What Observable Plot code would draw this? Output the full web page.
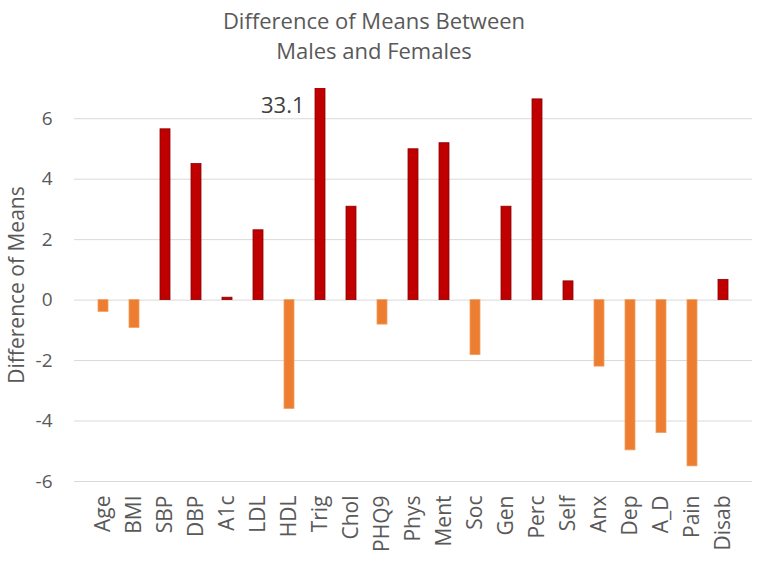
<!DOCTYPE html>
<html>
<head>
<meta charset="utf-8">
<script src="https://cdn.jsdelivr.net/npm/d3@7"></script>
<script src="https://cdn.jsdelivr.net/npm/@observablehq/plot@0.6"></script>
<style>
  html, body { margin: 0; padding: 0; background: #fff; }
  #wrap { width: 765px; height: 563px; overflow: hidden; font-family: "Open Sans", Lato, sans-serif; }
  #title { height: 70px; box-sizing: border-box; padding-top: 5px; text-align: center; color: #595959; font-size: 22px; line-height: 30px; padding-right: 17px; }
</style>
</head>
<body>
<div id="wrap">
  <div id="title">Difference of Means Between<br>Males and Females</div>
  <div id="chart"></div>
</div>
<script>
const categories = ["Age","BMI","SBP","DBP","A1c","LDL","HDL","Trig","Chol","PHQ9","Phys","Ment","Soc","Gen","Perc","Self","Anx","Dep","A_D","Pain","Disab"];
const values = [-0.39,-0.92,5.65,4.5,0.08,2.31,-3.6,33.1,3.09,-0.81,4.99,5.19,-1.82,3.09,6.64,0.62,-2.2,-4.97,-4.4,-5.5,0.67];
const yTicks = [-6,-4,-2,0,2,4,6];
const labelled = ["Trig"];

const data = categories.map((c, i) => ({cat: c, value: values[i]}));
const offScale = data.filter(d => labelled.includes(d.cat));

const chart = Plot.plot({
  width: 765,
  height: 493,
  marginTop: 18,
  marginBottom: 82,
  marginLeft: 74,
  marginRight: 13,
  style: {fontFamily: "'Open Sans', Lato, sans-serif", fontSize: "19px", color: "#595959", background: "#fff"},
  x: {domain: categories, padding: 0.69},
  y: {domain: [-6, 7]},
  marks: [
    Plot.ruleY(yTicks, {stroke: "#d9d9d9", strokeWidth: 1}),
    Plot.barY(data, {x: "cat", y: "value", clip: true,
      fill: d => d.value >= 0 ? "#C00000" : "#ED7D31",
      stroke: d => d.value >= 0 ? "#8c0000" : "#f0a060", strokeWidth: 0.8}),
    Plot.axisX({label: null, tickSize: 0, tickPadding: 14, tickRotate: -90, fontSize: 21}),
    Plot.axisY({ticks: yTicks, tickFormat: d => String(d), tickSize: 0, tickPadding: 22, fontSize: 19, label: null}),
    Plot.axisY({ticks: [], label: "Difference of Means", labelAnchor: "center", labelArrow: "none", labelOffset: 65, fontSize: 21}),
    Plot.text(offScale, {x: "cat", y: () => 7, text: d => String(d.value), textAnchor: "end", dx: -16, dy: 17, fill: "#404040", fontSize: 22})
  ]
});
document.getElementById("chart").appendChild(chart);
</script>
</body>
</html>
